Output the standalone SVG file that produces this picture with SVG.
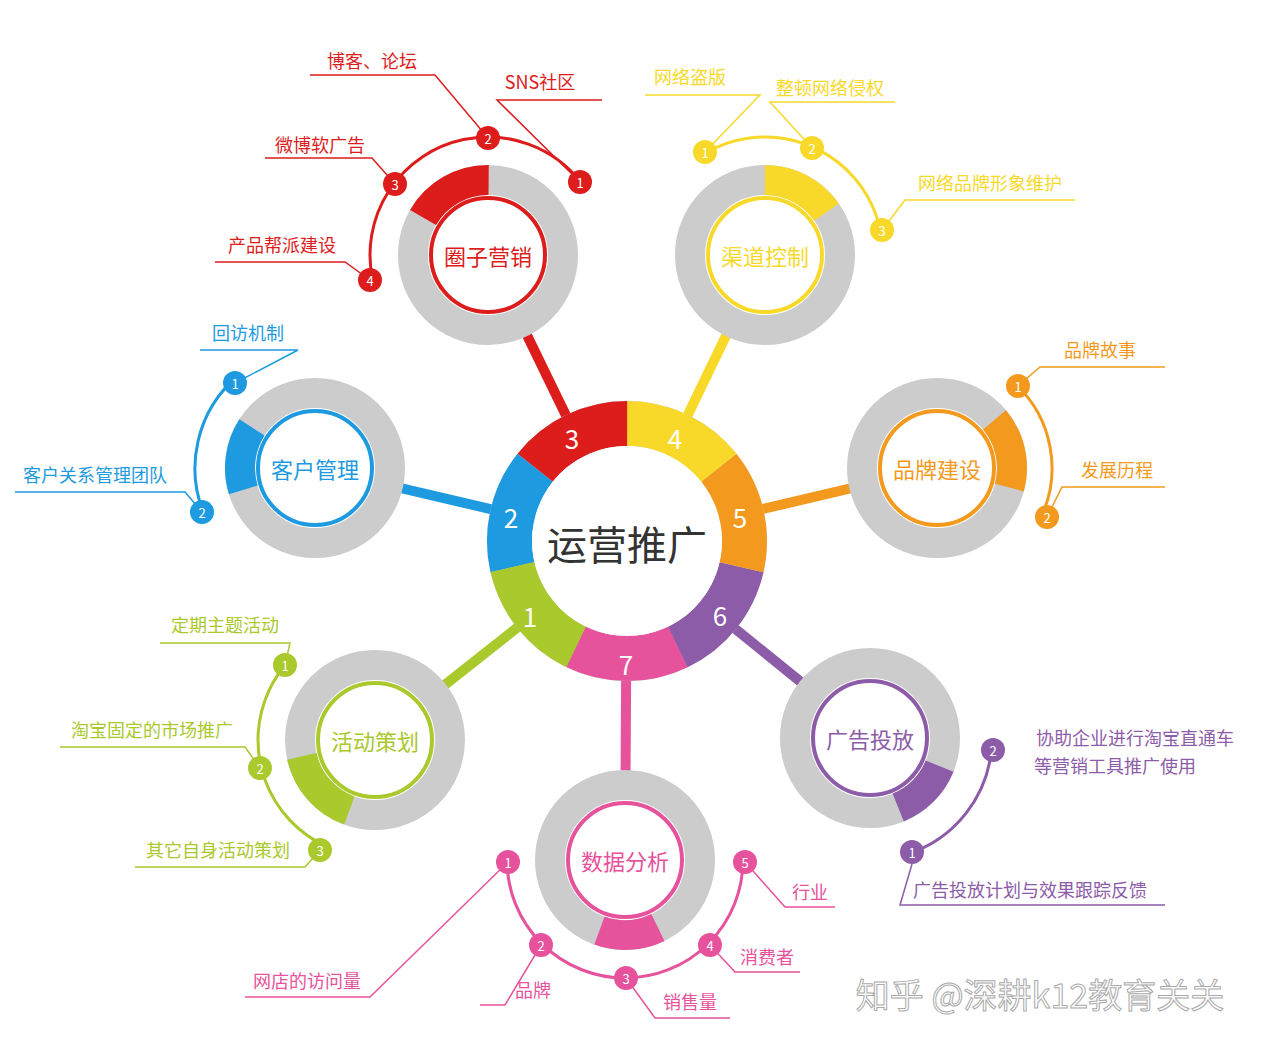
<svg xmlns="http://www.w3.org/2000/svg" width="1280" height="1046" viewBox="0 0 1280 1046">
<style>
text{font-family:"Noto Sans CJK SC","Noto Sans",sans-serif;}
.lab{font-size:18px;}
.num{font-size:13px;fill:#fff;text-anchor:middle;dominant-baseline:central;}
.big{font-size:26px;fill:#fff;text-anchor:middle;dominant-baseline:central;}
.sat{font-size:22px;text-anchor:middle;dominant-baseline:central;}
.ln{fill:none;stroke-width:1.5;}
.arc{fill:none;stroke-width:3;}
</style>
<rect width="1280" height="1046" fill="#fff"/>
<g id="connectors" stroke-width="10" stroke-linecap="butt">
<line x1="627" y1="541" x2="488" y2="255" stroke="#dd1c1c"/>
<line x1="627" y1="541" x2="765" y2="255" stroke="#f8d92a"/>
<line x1="627" y1="541" x2="937" y2="468" stroke="#f39a1e"/>
<line x1="627" y1="541" x2="870" y2="738" stroke="#8d5ca8"/>
<line x1="627" y1="541" x2="625" y2="860" stroke="#e6529c"/>
<line x1="627" y1="541" x2="375" y2="740" stroke="#a9c92c"/>
<line x1="627" y1="541" x2="315" y2="468" stroke="#1e9ae0"/>
</g>
<g id="center">
<circle cx="627" cy="541" r="117.5" fill="none" stroke="#ccc" stroke-width="45"/>
<g fill="none" stroke-width="45" stroke-dasharray="105.5 740">
<circle cx="627" cy="541" r="117.5" stroke="#e6529c" transform="rotate(64.3 627 541)"/>
<circle cx="627" cy="541" r="117.5" stroke="#8d5ca8" transform="rotate(12.9 627 541)"/>
<circle cx="627" cy="541" r="117.5" stroke="#f39a1e" transform="rotate(-38.6 627 541)"/>
<circle cx="627" cy="541" r="117.5" stroke="#f8d92a" transform="rotate(-90 627 541)"/>
<circle cx="627" cy="541" r="117.5" stroke="#dd1c1c" transform="rotate(-141.4 627 541)"/>
<circle cx="627" cy="541" r="117.5" stroke="#1e9ae0" transform="rotate(167.1 627 541)"/>
<circle cx="627" cy="541" r="117.5" stroke="#a9c92c" transform="rotate(115.7 627 541)"/>
</g>
<circle cx="627" cy="541" r="95" fill="#fff"/>
<text x="627" y="543" font-size="40" fill="#333" text-anchor="middle" dominant-baseline="central">运营推广</text>
<text class="big" x="572" y="437">3</text><text class="big" x="675" y="437">4</text>
<text class="big" x="740" y="516">5</text><text class="big" x="720" y="614">6</text>
<text class="big" x="626" y="663">7</text><text class="big" x="530" y="615">1</text>
<text class="big" x="511" y="516">2</text>
</g>

<g id="n-red">
<circle cx="488" cy="255" r="75" fill="#fff" stroke="#ccc" stroke-width="30"/>
<circle cx="488" cy="255" r="75" fill="none" stroke="#dd1c1c" stroke-width="30" stroke-dasharray="79 500" transform="rotate(-150 488 255)"/>
<circle cx="488" cy="255" r="57" fill="#fff" stroke="#dd1c1c" stroke-width="4"/>
<text class="sat" x="488" y="255" fill="#dd1c1c">圈子营销</text>
<circle class="arc" cx="488" cy="255" r="118" stroke="#dd1c1c" stroke-dasharray="317 500" transform="rotate(168 488 255)"/>
<polyline class="ln" stroke="#dd1c1c" points="310,75 435,75 488,138"/>
<polyline class="ln" stroke="#dd1c1c" points="602,100 497,100 580,182"/>
<polyline class="ln" stroke="#dd1c1c" points="265,158 372,158 395,184"/>
<polyline class="ln" stroke="#dd1c1c" points="215,262 345,262 370,280"/>
<text class="lab" x="372" y="68" fill="#dd1c1c" text-anchor="middle">博客、论坛</text>
<text class="lab" x="540" y="89" fill="#dd1c1c" text-anchor="middle">SNS社区</text>
<text class="lab" x="320" y="152" fill="#dd1c1c" text-anchor="middle">微博软广告</text>
<text class="lab" x="282" y="252" fill="#dd1c1c" text-anchor="middle">产品帮派建设</text>
<g fill="#dd1c1c"><circle cx="488" cy="138" r="12"/><circle cx="580" cy="182" r="12"/><circle cx="395" cy="184" r="12"/><circle cx="370" cy="280" r="12"/></g>
<text class="num" x="488" y="138">2</text><text class="num" x="580" y="182">1</text><text class="num" x="395" y="184">3</text><text class="num" x="370" y="280">4</text>
</g>

<g id="n-yellow">
<circle cx="765" cy="255" r="75" fill="#fff" stroke="#ccc" stroke-width="30"/>
<circle cx="765" cy="255" r="75" fill="none" stroke="#f8d92a" stroke-width="30" stroke-dasharray="72 500" transform="rotate(-90 765 255)"/>
<circle cx="765" cy="255" r="57" fill="#fff" stroke="#f8d92a" stroke-width="4"/>
<text class="sat" x="765" y="255" fill="#f8d92a">渠道控制</text>
<circle class="arc" cx="765" cy="255" r="118" stroke="#f8d92a" stroke-dasharray="222 600" transform="rotate(-120 765 255)"/>
<polyline class="ln" stroke="#f8d92a" points="645,95 760,95 705,152"/>
<polyline class="ln" stroke="#f8d92a" points="895,102 770,102 812,148"/>
<polyline class="ln" stroke="#f8d92a" points="1075,200 905,200 882,230"/>
<text class="lab" x="690" y="84" fill="#f8d92a" text-anchor="middle">网络盗版</text>
<text class="lab" x="830" y="95" fill="#f8d92a" text-anchor="middle">整顿网络侵权</text>
<text class="lab" x="990" y="190" fill="#f8d92a" text-anchor="middle">网络品牌形象维护</text>
<g fill="#f8d92a"><circle cx="705" cy="152" r="12"/><circle cx="812" cy="148" r="12"/><circle cx="882" cy="230" r="12"/></g>
<text class="num" x="705" y="152">1</text><text class="num" x="812" y="148">2</text><text class="num" x="882" y="230">3</text>
</g>

<g id="n-orange">
<circle cx="937" cy="468" r="75" fill="#fff" stroke="#ccc" stroke-width="30"/>
<circle cx="937" cy="468" r="75" fill="none" stroke="#f39a1e" stroke-width="30" stroke-dasharray="72 500" transform="rotate(-40 937 468)"/>
<circle cx="937" cy="468" r="57" fill="#fff" stroke="#f39a1e" stroke-width="4"/>
<text class="sat" x="937" y="468" fill="#f39a1e">品牌建设</text>
<circle class="arc" cx="937" cy="468" r="115" stroke="#f39a1e" stroke-dasharray="150 600" transform="rotate(-48 937 468)"/>
<polyline class="ln" stroke="#f39a1e" points="1165,367 1040,367 1018,386"/>
<polyline class="ln" stroke="#f39a1e" points="1165,487 1062,487 1047,517"/>
<text class="lab" x="1100" y="357" fill="#f39a1e" text-anchor="middle">品牌故事</text>
<text class="lab" x="1117" y="477" fill="#f39a1e" text-anchor="middle">发展历程</text>
<g fill="#f39a1e"><circle cx="1018" cy="386" r="12"/><circle cx="1047" cy="517" r="12"/></g>
<text class="num" x="1018" y="386">1</text><text class="num" x="1047" y="517">2</text>
</g>

<g id="n-blue">
<circle cx="315" cy="468" r="75" fill="#fff" stroke="#ccc" stroke-width="30"/>
<circle cx="315" cy="468" r="75" fill="none" stroke="#1e9ae0" stroke-width="30" stroke-dasharray="65 500" transform="rotate(163 315 468)"/>
<circle cx="315" cy="468" r="57" fill="#fff" stroke="#1e9ae0" stroke-width="4"/>
<text class="sat" x="315" y="468" fill="#1e9ae0">客户管理</text>
<circle class="arc" cx="315" cy="468" r="120" stroke="#1e9ae0" stroke-dasharray="159 700" transform="rotate(155 315 468)"/>
<polyline class="ln" stroke="#1e9ae0" points="200,350 298,350 235,383"/>
<polyline class="ln" stroke="#1e9ae0" points="15,492 185,492 202,512"/>
<text class="lab" x="248" y="340" fill="#1e9ae0" text-anchor="middle">回访机制</text>
<text class="lab" x="95" y="482" fill="#1e9ae0" text-anchor="middle">客户关系管理团队</text>
<g fill="#1e9ae0"><circle cx="235" cy="383" r="12"/><circle cx="202" cy="512" r="12"/></g>
<text class="num" x="235" y="383">1</text><text class="num" x="202" y="512">2</text>
</g>

<g id="n-green">
<circle cx="375" cy="740" r="75" fill="#fff" stroke="#ccc" stroke-width="30"/>
<circle cx="375" cy="740" r="75" fill="none" stroke="#a9c92c" stroke-width="30" stroke-dasharray="75 500" transform="rotate(110 375 740)"/>
<circle cx="375" cy="740" r="57" fill="#fff" stroke="#a9c92c" stroke-width="4"/>
<text class="sat" x="375" y="740" fill="#a9c92c">活动策划</text>
<circle class="arc" cx="375" cy="740" r="117" stroke="#a9c92c" stroke-dasharray="218 600" transform="rotate(115 375 740)"/>
<polyline class="ln" stroke="#a9c92c" points="160,643 290,643 285,665"/>
<polyline class="ln" stroke="#a9c92c" points="60,747 245,747 260,768"/>
<polyline class="ln" stroke="#a9c92c" points="135,867 305,867 320,850"/>
<text class="lab" x="225" y="632" fill="#a9c92c" text-anchor="middle">定期主题活动</text>
<text class="lab" x="152" y="737" fill="#a9c92c" text-anchor="middle">淘宝固定的市场推广</text>
<text class="lab" x="218" y="857" fill="#a9c92c" text-anchor="middle">其它自身活动策划</text>
<g fill="#a9c92c"><circle cx="285" cy="665" r="12"/><circle cx="260" cy="768" r="12"/><circle cx="320" cy="850" r="12"/></g>
<text class="num" x="285" y="665">1</text><text class="num" x="260" y="768">2</text><text class="num" x="320" y="850">3</text>
</g>

<g id="n-pink">
<circle cx="625" cy="860" r="75" fill="#fff" stroke="#ccc" stroke-width="30"/>
<circle cx="625" cy="860" r="75" fill="none" stroke="#e6529c" stroke-width="30" stroke-dasharray="60 500" transform="rotate(64 625 860)"/>
<circle cx="625" cy="860" r="57" fill="#fff" stroke="#e6529c" stroke-width="4"/>
<text class="sat" x="625" y="860" fill="#e6529c">数据分析</text>
<circle class="arc" cx="625" cy="860" r="118" stroke="#e6529c" stroke-dasharray="370 500" transform="rotate(0 625 860)"/>
<polyline class="ln" stroke="#e6529c" points="245,997 370,997 508,862"/>
<polyline class="ln" stroke="#e6529c" points="480,1005 505,1005 541,945"/>
<polyline class="ln" stroke="#e6529c" points="730,1018 655,1018 626,978"/>
<polyline class="ln" stroke="#e6529c" points="800,972 735,972 710,945"/>
<polyline class="ln" stroke="#e6529c" points="835,907 785,907 745,862"/>
<text class="lab" x="307" y="988" fill="#e6529c" text-anchor="middle">网店的访问量</text>
<text class="lab" x="533" y="997" fill="#e6529c" text-anchor="middle">品牌</text>
<text class="lab" x="690" y="1009" fill="#e6529c" text-anchor="middle">销售量</text>
<text class="lab" x="767" y="964" fill="#e6529c" text-anchor="middle">消费者</text>
<text class="lab" x="810" y="899" fill="#e6529c" text-anchor="middle">行业</text>
<g fill="#e6529c"><circle cx="508" cy="862" r="12"/><circle cx="541" cy="945" r="12"/><circle cx="626" cy="978" r="12"/><circle cx="710" cy="945" r="12"/><circle cx="745" cy="862" r="12"/></g>
<text class="num" x="508" y="862">1</text><text class="num" x="541" y="945">2</text><text class="num" x="626" y="978">3</text><text class="num" x="710" y="945">4</text><text class="num" x="745" y="862">5</text>
</g>

<g id="n-purple">
<circle cx="870" cy="738" r="75" fill="#fff" stroke="#ccc" stroke-width="30"/>
<circle cx="870" cy="738" r="75" fill="none" stroke="#8d5ca8" stroke-width="30" stroke-dasharray="60 500" transform="rotate(22 870 738)"/>
<circle cx="870" cy="738" r="57" fill="#fff" stroke="#8d5ca8" stroke-width="4"/>
<text class="sat" x="870" y="738" fill="#8d5ca8">广告投放</text>
<circle class="arc" cx="870" cy="738" r="122" stroke="#8d5ca8" stroke-dasharray="149 700" transform="rotate(3 870 738)"/>
<polyline class="ln" stroke="#8d5ca8" points="1165,905 900,905 912,864"/>
<text class="lab" x="1135" y="745" fill="#8d5ca8" text-anchor="middle">协助企业进行淘宝直通车</text>
<text class="lab" x="1115" y="773" fill="#8d5ca8" text-anchor="middle">等营销工具推广使用</text>
<text class="lab" x="1030" y="897" fill="#8d5ca8" text-anchor="middle">广告投放计划与效果跟踪反馈</text>
<g fill="#8d5ca8"><circle cx="993" cy="750" r="12"/><circle cx="912" cy="852" r="12"/></g>
<text class="num" x="993" y="750">2</text><text class="num" x="912" y="852">1</text>
</g>

<text x="1040" y="1008" font-size="34" fill="#fff" stroke="#aaa" stroke-width="1" text-anchor="middle">知乎 @深耕k12教育关关</text>
</svg>
